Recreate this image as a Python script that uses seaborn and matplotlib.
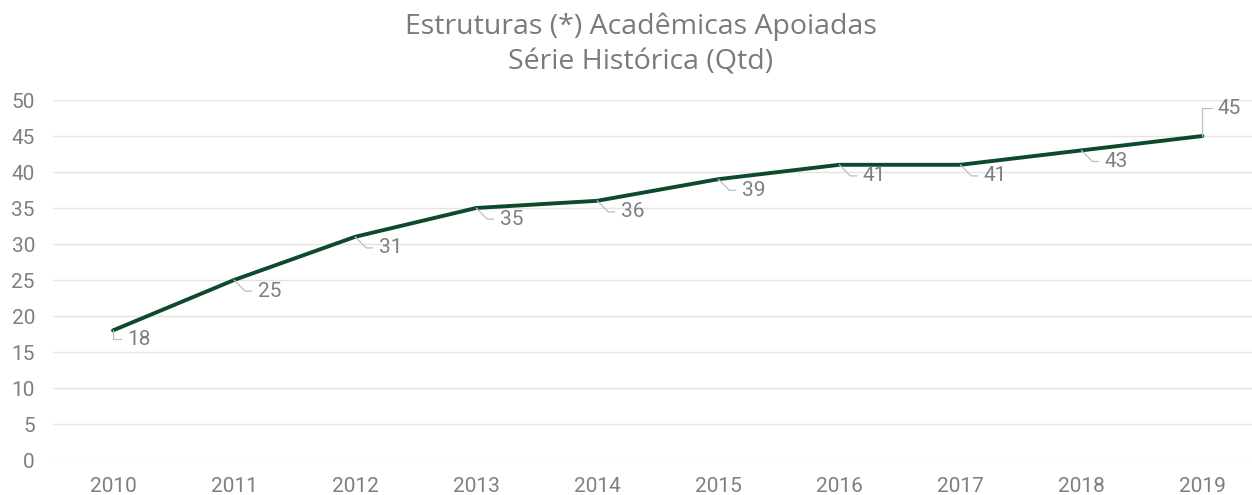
import matplotlib
matplotlib.use("Agg")
import matplotlib.pyplot as plt
import seaborn as sns
import pandas as pd

anos = ["2010", "2011", "2012", "2013", "2014", "2015", "2016", "2017", "2018", "2019"]
valores = [18, 25, 31, 35, 36, 39, 41, 41, 43, 45]
yticks = [0, 5, 10, 15, 20, 25, 30, 35, 40, 45, 50]

sns.set_theme(style="white")
plt.rcParams['font.family'] = ['Roboto', 'DejaVu Sans']

df = pd.DataFrame({"ano": anos, "valor": valores})

fig = plt.figure(figsize=(12.52, 4.95), dpi=100)
ax = fig.add_axes([53/1252, 35/495, 1199/1252, 360/495])

sns.lineplot(data=df, x="ano", y="valor", ax=ax, color="#0d4a2c", linewidth=2.8, sort=False)

ax.set_ylim(0, 50)
ax.set_xlim(-0.496, 9.41)
ax.set_yticks(yticks)
ax.set_yticklabels([str(t) for t in yticks])
ax.grid(axis="y", color="#e4e4e4", linewidth=1)
ax.set_axisbelow(True)
for s in ax.spines.values():
    s.set_visible(False)
ax.tick_params(axis="both", length=0, labelsize=15, colors="#7f7f7f")
ax.tick_params(axis="x", pad=12)
ax.tick_params(axis="y", pad=13)
ax.set_xlabel("")
ax.set_ylabel("")

gray = "#7f7f7f"
for i, v in enumerate(valores):
    if i == 0:
        off, angB = (10, -6.5), 90
    elif i == len(valores) - 1:
        off, angB = (11, 20), 90
    else:
        off, angB = (17, -8), -45
    ax.annotate(str(v), xy=(i, v), xytext=off, textcoords="offset points",
                ha="left", va="center", fontsize=15, color=gray,
                arrowprops=dict(arrowstyle="-", color="#bfbfbf", lw=0.9,
                                shrinkA=2, shrinkB=0,
                                connectionstyle=f"angle,angleA=0,angleB={angB},rad=0"))

fig.text(0.5116, 0.91, "Estruturas (*) Acadêmicas Apoiadas\nSérie Histórica (Qtd)",
         ha="center", va="center", fontsize=20.5, color="#7a7a7a",
         family=["Open Sans", "DejaVu Sans"], linespacing=1.32)

fig.savefig("out.png", dpi=100, facecolor="white")
